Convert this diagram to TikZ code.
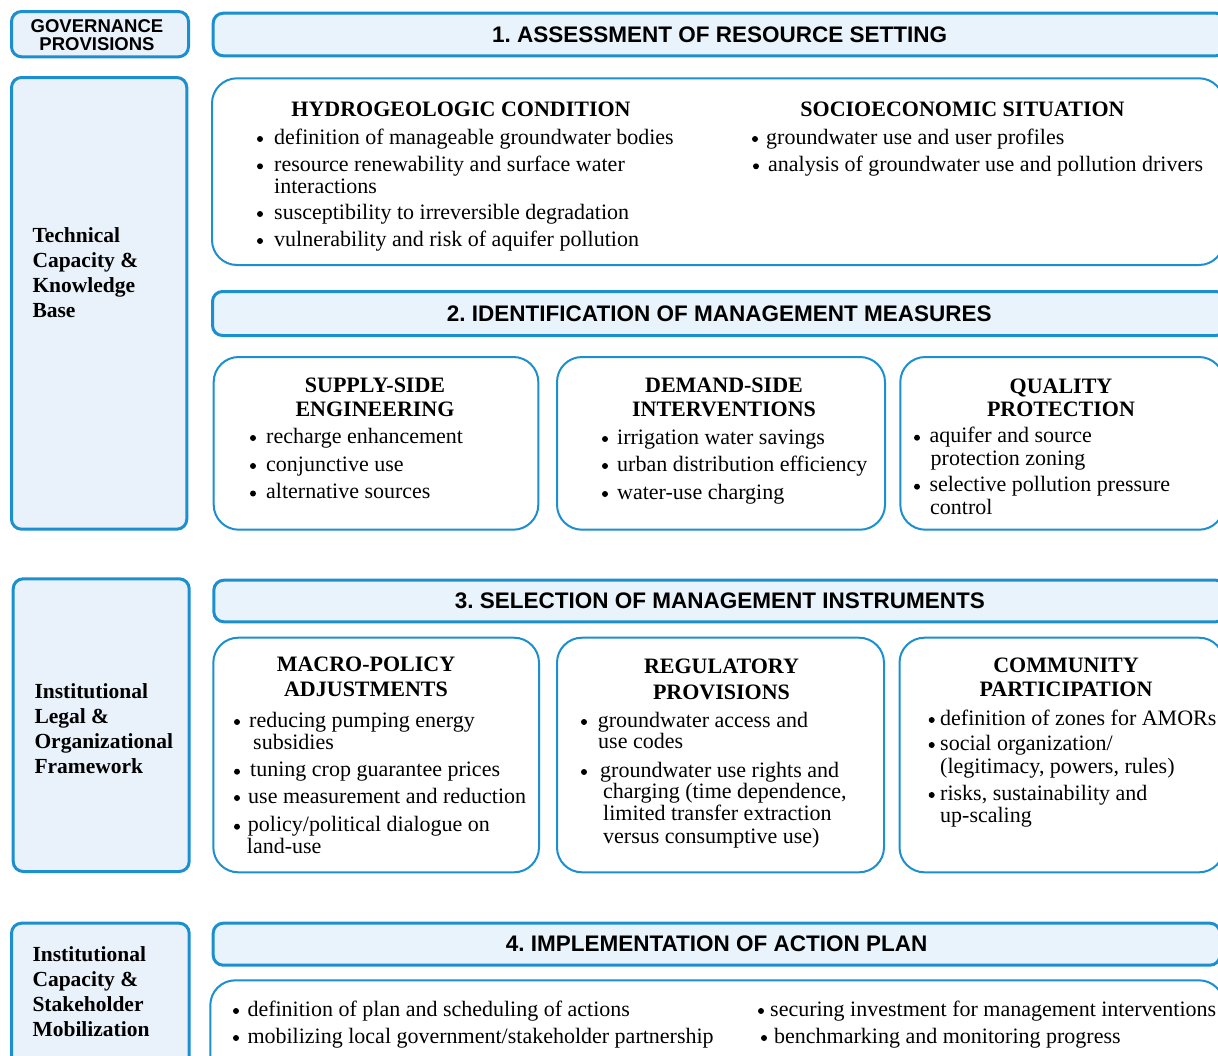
\documentclass[tikz,border=0pt]{standalone}
\usepackage{fontspec}
\setmainfont{Liberation Serif}
\newfontfamily\hdrfont{Liberation Sans}
\definecolor{bblue}{HTML}{1B8FD0}
\definecolor{lfill}{HTML}{E9F1FA}
\definecolor{hfill}{HTML}{E8F3FB}
\frenchspacing
\tikzset{
  leftbox/.style={draw=bblue, line width=3pt, fill=lfill, rounded corners=10pt},
  hdrbox/.style={draw=bblue, line width=3pt, fill=hfill, rounded corners=10pt,
    font=\hdrfont\bfseries\fontsize{22.5}{24}\selectfont},
  contbox/.style={draw=bblue, line width=2pt, fill=white, rounded corners=25pt},
  body/.style={font=\fontsize{22}{23}\selectfont, inner sep=0pt, anchor=base west},
  head/.style={font=\bfseries\fontsize{22}{23}\selectfont, inner sep=0pt, anchor=base},
  lab/.style={font=\bfseries\fontsize{21.5}{23}\selectfont, inner sep=0pt, anchor=base west},
  govtxt/.style={font=\hdrfont\bfseries\fontsize{18.5}{19}\selectfont, inner sep=0pt, anchor=base},
}
\newcount\nn
\newcommand\bx[7]{\node[#2, outer sep=0pt, inner sep=0pt, anchor=north west,
  minimum width={(#5-#3)*1pt}, minimum height={(#6-#4)*1pt}] (#1) at (#3,#4) {#7};}
\newcommand\bul[4]{\global\advance\nn by 1
  \fill[black] (#1,#3-5) circle[radius=3pt];
  \node[body] (t\the\nn) at (#2,#3) {#4};}
\newcommand\cont[3]{\global\advance\nn by 1 \node[body] (t\the\nn) at (#1,#2) {#3};}
\newcommand\hd[3]{\global\advance\nn by 1 \node[head] (t\the\nn) at (#1,#2) {#3};}
\newcommand\lb[3]{\global\advance\nn by 1 \node[lab] (t\the\nn) at (#1,#2) {#3};}
\begin{document}
\begin{tikzpicture}[x=1pt,y=-1pt]
\useasboundingbox (0,0) rectangle (1218,1055);
\clip (0,0) rectangle (1218,1055);
% left column
\bx{gov}{leftbox}{11.5}{11.5}{188.5}{56.8}{}
\bx{tech}{leftbox}{11.5}{77.5}{186.8}{529.2}{}
\bx{legal}{leftbox}{13.2}{578.8}{189.2}{871.5}{}
\bx{instcap}{leftbox}{11.5}{923.2}{189.2}{1090}{}
% headers
\bx{h1}{hdrbox}{213.2}{13.2}{1226}{55.8}{1. ASSESSMENT OF RESOURCE SETTING}
\bx{h2}{hdrbox}{212.5}{291.5}{1226}{335.5}{2. IDENTIFICATION OF MANAGEMENT MEASURES}
\bx{h3}{hdrbox}{213.8}{580.2}{1226}{621.8}{3. SELECTION OF MANAGEMENT INSTRUMENTS}
\bx{h4}{hdrbox}{213.2}{923.2}{1220}{965.2}{4. IMPLEMENTATION OF ACTION PLAN}
% content boxes
\bx{b1}{contbox}{212}{78.3}{1224}{265}{}
\bx{b2a}{contbox}{213.7}{357}{538.3}{529.7}{}
\bx{b2b}{contbox}{557}{357}{885}{529.7}{}
\bx{b2c}{contbox}{900.3}{357}{1224}{529.7}{}
\bx{b3a}{contbox}{213.3}{637.7}{539}{872.3}{}
\bx{b3b}{contbox}{557}{637.7}{884}{872.3}{}
\bx{b3c}{contbox}{899.5}{637.7}{1224}{872.3}{}
\bx{b4}{contbox}{210.3}{980.3}{1224}{1090}{}
% governance text
\node[govtxt] (g1) at (97,32.3) {GOVERNANCE};
\node[govtxt] (g2) at (97,50.7) {PROVISIONS};
% left labels
\lb{32.3}{242.7}{Technical}
\lb{32.3}{267.7}{Capacity \&}
\lb{32.3}{292.7}{Knowledge}
\lb{32.3}{317.7}{Base}
\lb{34.3}{698.3}{Institutional}
\lb{34.3}{723.3}{Legal \&}
\lb{34.3}{748.3}{Organizational}
\lb{34.3}{773.3}{Framework}
\lb{32.3}{961.7}{Institutional}
\lb{32.3}{986.7}{Capacity \&}
\lb{32.3}{1011.7}{Stakeholder}
\lb{32.3}{1036.7}{Mobilization}
% box 1
\hd{461}{116.7}{HYDROGEOLOGIC CONDITION}
\hd{962.5}{116.7}{SOCIOECONOMIC SITUATION}
\bul{260}{274}{144}{definition of manageable groundwater bodies}
\bul{260}{274}{171.3}{resource renewability and surface water}
\cont{274}{193.5}{interactions}
\bul{260}{274}{219}{susceptibility to irreversible degradation}
\bul{260}{274}{246}{vulnerability and risk of aquifer pollution}
\bul{755}{766}{144}{groundwater use and user profiles}
\bul{756}{768}{171.3}{analysis of groundwater use and pollution drivers}
% box 2a
\hd{375}{392}{SUPPLY-SIDE}
\hd{375}{416.7}{ENGINEERING}
\bul{253}{266}{443}{recharge enhancement}
\bul{253}{266}{471}{conjunctive use}
\bul{253}{266}{498.5}{alternative sources}
% box 2b
\hd{724}{392}{DEMAND-SIDE}
\hd{724}{416.7}{INTERVENTIONS}
\bul{605}{617}{444}{irrigation water savings}
\bul{605}{617}{471}{urban distribution efficiency}
\bul{605}{617}{499}{water-use charging}
% box 2c
\hd{1061}{393.3}{QUALITY}
\hd{1061}{416.7}{PROTECTION}
\bul{917}{929.3}{442.7}{aquifer and source}
\cont{930.5}{465}{protection zoning}
\bul{917}{929.3}{491.7}{selective pollution pressure}
\cont{930}{514}{control}
% box 3a
\hd{366}{671.7}{MACRO-POLICY}
\hd{366}{696.7}{ADJUSTMENTS}
\bul{237}{249}{727}{reducing pumping energy}
\cont{253}{749}{subsidies}
\bul{237}{250}{776.7}{tuning crop guarantee prices}
\bul{237}{248}{803}{use measurement and reduction}
\bul{237}{247.7}{831.7}{policy/political dialogue on}
\cont{246.7}{853}{land-use}
% box 3b
\hd{721.5}{673}{REGULATORY}
\hd{721.5}{699}{PROVISIONS}
\bul{584}{597.7}{727}{groundwater access and}
\cont{598}{748.5}{use codes}
\bul{584}{600}{777}{groundwater use rights and}
\cont{603}{798}{charging (time dependence,}
\cont{603}{820}{limited transfer extraction}
\cont{603}{843}{versus consumptive use)}
% box 3c
\hd{1066}{672.7}{COMMUNITY}
\hd{1066}{696.7}{PARTICIPATION}
\bul{931.7}{940}{725}{definition of zones for AMORs}
\bul{931.7}{940}{750}{social organization/}
\cont{940}{773}{(legitimacy, powers, rules)}
\bul{931.7}{940}{800}{risks, sustainability and}
\cont{940}{822.7}{up-scaling}
% box 4
\bul{236}{247.3}{1016}{definition of plan and scheduling of actions}
\bul{236}{247.3}{1043}{mobilizing local government/stakeholder partnership}
\bul{761}{770}{1016}{securing investment for management interventions}
\bul{764}{774}{1043}{benchmarking and monitoring progress}
\end{tikzpicture}
\end{document}
